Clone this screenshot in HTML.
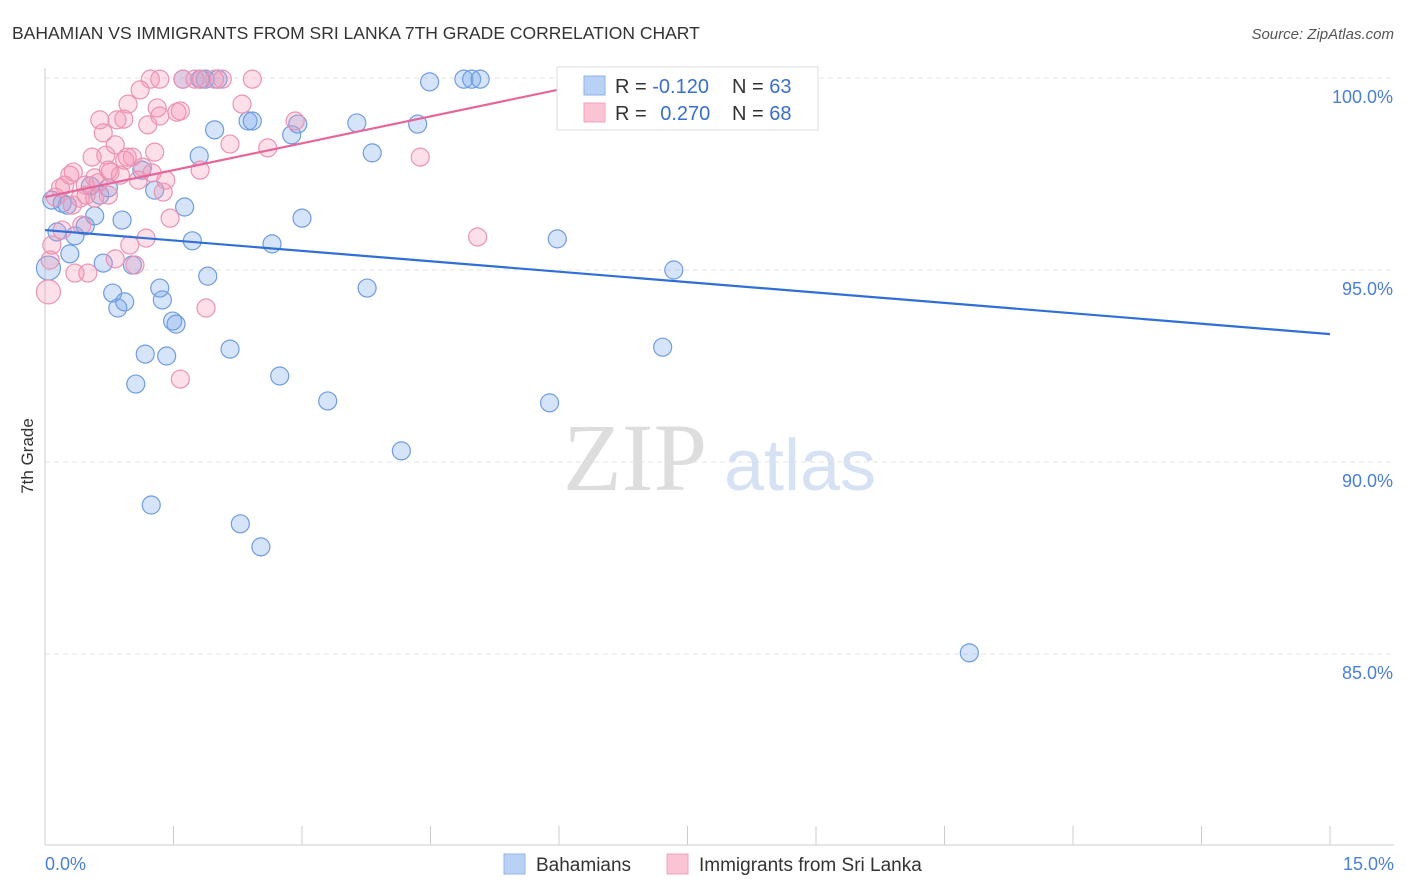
<!DOCTYPE html>
<html><head><meta charset="utf-8">
<style>
body{margin:0;background:#fff;font-family:"Liberation Sans",sans-serif;}
svg{display:block}
</style></head>
<body>
<svg id="chart" width="1406" height="892" xmlns="http://www.w3.org/2000/svg">
<text x="12" y="39" font-size="17.5" fill="#333">BAHAMIAN VS IMMIGRANTS FROM SRI LANKA 7TH GRADE CORRELATION CHART</text>
<text x="1394" y="39" font-size="15" fill="#555" text-anchor="end" font-style="italic">Source: ZipAtlas.com</text>
<text x="33" y="456" font-size="17" fill="#333" text-anchor="middle" transform="rotate(-90 33 456)">7th Grade</text>
<g>
<text x="635" y="490" font-size="96" fill="#ddd" text-anchor="middle" font-family="Liberation Serif,serif">ZIP</text>
<text x="800" y="490" font-size="72" fill="#d6e2f4" text-anchor="middle">atlas</text>
</g>
<g id="grid"></g><g id="axes"></g><g id="pts"></g><g id="lines"></g>
<g>
<rect x="557" y="67" width="261" height="63" fill="#fff" stroke="#ddd"/>
<rect x="584" y="76" width="21" height="19" fill="#b8d1f5" stroke="#8fb2e8"/>
<rect x="584" y="103" width="21" height="19" fill="#fbc4d4" stroke="#f0a3bb"/>
<text x="615" y="93" font-size="20" fill="#333">R = <tspan fill="#3a6fcc">-0.120</tspan></text>
<text x="732" y="93" font-size="20" fill="#333">N = <tspan fill="#3a6fcc">63</tspan></text>
<text x="615" y="120" font-size="20" fill="#333">R = <tspan fill="#3a6fcc" dx="8">0.270</tspan></text>
<text x="732" y="120" font-size="20" fill="#333">N = <tspan fill="#3a6fcc">68</tspan></text>
</g>
<g>
<rect x="504" y="854" width="21" height="20" fill="#b8d1f5" stroke="#8fb2e8"/>
<text x="536" y="871" font-size="19" fill="#333">Bahamians</text>
<rect x="667" y="854" width="21" height="20" fill="#fbc4d4" stroke="#f0a3bb"/>
<text x="699" y="871" font-size="19" fill="#333">Immigrants from Sri Lanka</text>
</g>
</svg>
<script>
const xTicks=[0,1.5,3,4.5,6,7.5,9,10.5,12,13.5,15];
const yTicks=[100,95,90,85];
const yTickLabels=["100.0%","95.0%","90.0%","85.0%"];
const blueX=[0.04,0.08,0.14,0.20,0.26,0.29,0.35,0.47,0.53,0.58,0.64,0.68,0.74,0.79,0.85,0.90,0.93,1.02,1.06,1.17,1.24,1.28,1.34,1.37,1.42,1.49,1.53,1.63,1.72,1.80,1.90,1.98,2.16,2.28,2.37,2.42,2.52,2.65,2.74,2.88,2.95,3.00,3.30,3.64,3.76,3.82,4.16,4.35,4.49,4.89,4.98,5.08,5.89,5.98,7.21,7.34,7.47,10.79,1.61,1.87,2.02,1.81,1.13];
const blueY=[95.05,96.82,95.99,96.74,96.69,95.42,95.89,96.15,97.19,96.41,96.95,95.18,97.14,94.40,94.01,96.30,94.17,95.13,92.03,92.81,88.88,97.08,94.53,94.22,92.76,93.67,93.59,96.64,95.76,97.97,94.84,98.65,92.94,88.39,98.88,98.88,87.79,95.68,92.24,98.52,98.80,96.35,91.59,98.83,94.53,98.05,90.29,98.80,99.90,99.97,99.97,99.97,91.54,95.81,92.99,95.0,99.97,85.03,99.97,99.97,99.97,99.97,97.60];
const pinkX=[0.04,0.06,0.08,0.12,0.18,0.20,0.23,0.29,0.33,0.35,0.41,0.43,0.48,0.50,0.55,0.58,0.62,0.64,0.68,0.71,0.74,0.76,0.82,0.84,0.88,0.92,0.96,0.97,0.99,1.02,1.05,1.09,1.11,1.14,1.18,1.20,1.25,1.28,1.31,1.34,1.34,1.38,1.41,1.46,1.54,1.58,1.61,1.81,1.83,1.88,2.07,2.16,2.30,2.42,2.60,2.92,4.38,5.05,1.75,1.23,0.58,0.82,0.47,0.32,0.74,0.93,1.58,1.98];
const pinkY=[94.43,95.26,95.65,96.90,97.14,96.04,97.21,97.47,97.55,94.92,96.87,96.17,96.95,94.92,97.94,97.40,97.27,98.91,98.57,97.99,96.95,97.55,95.29,98.91,97.47,98.93,97.94,99.32,95.65,97.94,95.13,97.34,99.69,97.68,95.83,98.78,97.53,98.07,99.22,99.01,99.97,97.03,97.34,96.35,99.11,92.16,99.97,97.60,99.97,94.01,99.97,98.28,99.32,99.97,98.18,98.88,97.94,95.86,99.97,99.97,96.87,98.26,97.21,96.69,97.60,97.86,99.14,99.97];
const blueTrend=[0,96.04,15,93.33];
const pinkTrend=[0,96.90,6,99.70];
const NS="http://www.w3.org/2000/svg";
const xs=v=>45+v/15*1285;
const ys=v=>78+(100-v)*38.4;
function mk(t,a,p){const e=document.createElementNS(NS,t);for(const k in a)e.setAttribute(k,a[k]);p.appendChild(e);return e;}
const grid=document.getElementById('grid'),axes=document.getElementById('axes'),pts=document.getElementById('pts'),lines=document.getElementById('lines');
yTicks.forEach((v,i)=>{
 const l=mk('line',{x1:45,x2:1394,y1:ys(v),y2:ys(v),stroke:'#e3e3e3','stroke-dasharray':'5,4'},grid);
 
 
 const t=mk('text',{x:1393,y:ys(v)+25,'font-size':18,fill:'#4a7fd6','text-anchor':'end'},axes);
 t.textContent=yTickLabels[i];
 
 
});
const ax=mk('line',{x1:45,x2:45,y1:68,y2:845,stroke:'#ccc'},axes);


const bx=mk('line',{x1:45,x2:1394,y1:845,y2:845,stroke:'#ccc'},axes);


xTicks.forEach(v=>{
 const l=mk('line',{x1:xs(v),x2:xs(v),y1:826,y2:845,stroke:'#ccc'},axes);
 
 
});
[[0,"0.0%",'start',45],[15,"15.0%",'end',1394]].forEach(d=>{
 const t=mk('text',{x:d[3],y:870,'font-size':18,fill:'#4a7fd6','text-anchor':d[2]},axes);
 t.textContent=d[1];
 
 
});
function dots(X,Y,fill,stroke,name){
 X.forEach((x,i)=>{
  const r=(x<0.05)?12:9;
  const c=mk('circle',{cx:xs(x),cy:ys(Y[i]),r:r,fill:fill,stroke:stroke,'stroke-width':1.2},pts);
  
  
 });
}
dots(blueX,blueY,'rgba(120,165,235,0.3)','#6f9ce0','bahamians-point');
dots(pinkX,pinkY,'rgba(245,150,180,0.3)','#eb93b3','sri-lanka-point');
const bl=mk('line',{x1:xs(blueTrend[0]),y1:ys(blueTrend[1]),x2:xs(blueTrend[2]),y2:ys(blueTrend[3]),stroke:'#2f6fd6','stroke-width':2.2},lines);


const pl=mk('line',{x1:xs(pinkTrend[0]),y1:ys(pinkTrend[1]),x2:xs(pinkTrend[2]),y2:ys(pinkTrend[3]),stroke:'#e6669a','stroke-width':2.2},lines);


</script>
</body></html>
